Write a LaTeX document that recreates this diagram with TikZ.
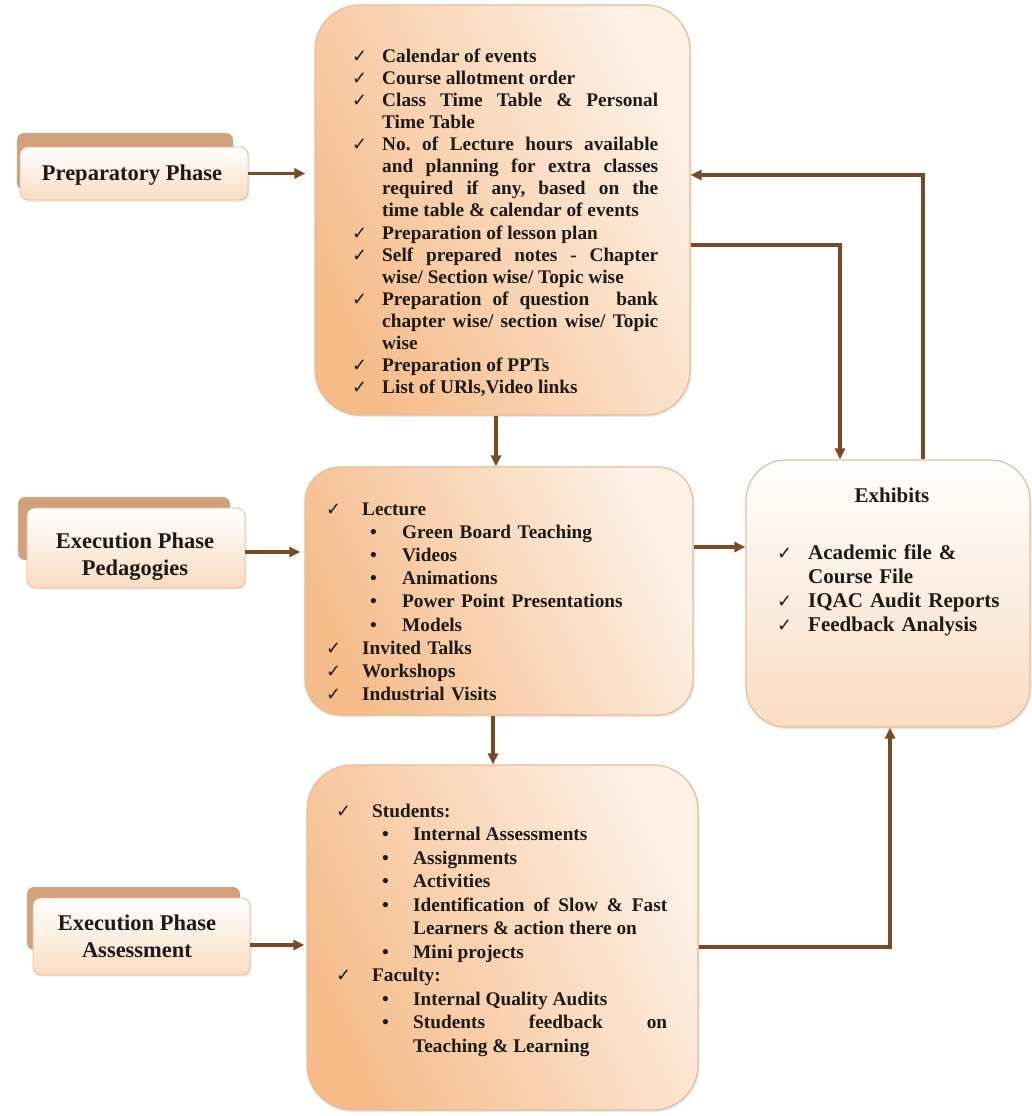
\documentclass[tikz,border=0pt]{standalone}
\usepackage{fontspec}
\setmainfont{Liberation Serif}
\newfontfamily\symfont{DejaVu Sans}
\usetikzlibrary{arrows.meta,shadows}
\frenchspacing

\definecolor{arrowbrown}{HTML}{7A4A22}
\definecolor{peachdark}{HTML}{F5BC8A}
\definecolor{peachlight}{HTML}{FEF1E6}
\definecolor{rim}{HTML}{EBBB95}
\definecolor{tabtan}{HTML}{D2A07A}
\definecolor{labelbottom}{HTML}{FADCC2}
\definecolor{ink}{HTML}{1E1A18}

\newcommand{\tickmark}{{\symfont\fontsize{18}{18}\selectfont ✓}}

% check-marked list: #1 = indent of the item text
\newenvironment{ticklist}[1]{%
  \begin{list}{\tickmark}{%
    \setlength{\leftmargin}{#1}\setlength{\labelwidth}{#1}%
    \setlength{\labelsep}{0pt}\setlength{\itemindent}{0pt}%
    \setlength{\itemsep}{0pt}\setlength{\parsep}{0pt}%
    \setlength{\topsep}{0pt}\setlength{\partopsep}{0pt}%
    \renewcommand{\makelabel}[1]{##1\hfil}}}
  {\end{list}}

% bulleted sub-list: #1 = indent of the text, #2 = width of the bullet box
\newenvironment{bulletlist}[2]{%
  \begin{list}{\textbullet}{%
    \setlength{\leftmargin}{#1}\setlength{\labelwidth}{#2}%
    \setlength{\labelsep}{0pt}\setlength{\itemindent}{0pt}%
    \setlength{\itemsep}{0pt}\setlength{\parsep}{0pt}%
    \setlength{\topsep}{0pt}\setlength{\partopsep}{0pt}%
    \renewcommand{\makelabel}[1]{##1\hfil}}}
  {\end{list}}

\tikzset{
  phasebox/.style={rectangle, draw=rim, line width=1.2pt,
    top color=peachlight, bottom color=peachdark, shading angle=-65,
    drop shadow={opacity=0.18, shadow xshift=1.5pt, shadow yshift=-2pt}},
  exhibitbox/.style={rectangle, draw=rim, line width=1.2pt,
    top color=white, bottom color=labelbottom,
    drop shadow={opacity=0.18, shadow xshift=1.5pt, shadow yshift=-2pt}},
  tabback/.style={rectangle, rounded corners=7pt, fill=tabtan},
  tabfront/.style={rectangle, rounded corners=8pt, draw=rim, line width=0.8pt,
    top color=white, bottom color=labelbottom,
    drop shadow={opacity=0.15, shadow xshift=1.5pt, shadow yshift=-1.5pt}},
  labeltext/.style={inner sep=0pt, text=ink, align=center,
    font=\fontsize{22.5}{27}\selectfont\bfseries},
  listtext/.style={inner sep=0pt, text=ink, anchor=north west},
  conn/.style={draw=arrowbrown, line width=3.2pt,
    -{Triangle[length=11pt,width=10pt]}},
}

\begin{document}
\begin{tikzpicture}[x=1pt,y=-1pt]
\fill[white] (0,0) rectangle (1032,1116);
\useasboundingbox (0,0) rectangle (1032,1116);

% ---- main content boxes ----
\node[phasebox, rounded corners=45pt, minimum width=375pt, minimum height=410pt]
  (prepbox) at (502.5,210) {};
\node[phasebox, rounded corners=35pt, minimum width=388pt, minimum height=248pt]
  (pedbox) at (499,591) {};
\node[phasebox, rounded corners=45pt, minimum width=391pt, minimum height=345pt]
  (assbox) at (502.5,937.5) {};
\node[exhibitbox, rounded corners=40pt, minimum width=284pt, minimum height=267pt]
  (exhbox) at (888,593.5) {};

% ---- phase labels on the left ----
\node[tabback, minimum width=216pt, minimum height=57pt] (prepback) at (125,161.5) {};
\node[tabfront, minimum width=228pt, minimum height=53pt] (prepfront) at (134,173.5) {};
\node[labeltext, anchor=base] (preplabel) at (132,180) {Preparatory Phase};

\node[tabback, minimum width=212pt, minimum height=63pt] (pedback) at (124,528.5) {};
\node[tabfront, minimum width=218pt, minimum height=80pt] (pedfront) at (136,548) {};
\node[labeltext, anchor=north] (pedlabel) at (135,532.8) {Execution Phase\\Pedagogies};

\node[tabback, minimum width=213pt, minimum height=63pt] (assback) at (133.5,918.5) {};
\node[tabfront, minimum width=217pt, minimum height=77pt] (assfront) at (141.5,936.5) {};
\node[labeltext, anchor=north] (asslabel) at (137,914.8) {Execution Phase\\Assessment};

% ---- box contents ----
\node[listtext, text width=306pt, align=justify,
      font=\fontsize{19.3}{22.13}\selectfont\bfseries] (preptext) at (352,39.7) {%
\begin{ticklist}{30pt}
\item Calendar of events
\item Course allotment order
\item Class Time Table \& Personal\linebreak Time Table
\item No. of Lecture hours available\linebreak and planning for extra classes\linebreak
  required if any, based on the\linebreak time table \& calendar of events
\item Preparation of lesson plan
\item Self prepared notes - Chapter\linebreak wise/ Section wise/ Topic wise
\item Preparation of question\hspace{16pt} bank\linebreak chapter wise/ section wise/ Topic\linebreak wise
\item Preparation of PPTs
\item List of URls,Video links
\end{ticklist}};

\node[listtext, text width=330pt, align=left,
      font=\fontsize{19.3}{23.1}\selectfont\bfseries] (pedtext) at (326,492.2) {%
\begin{ticklist}{36pt}
\item Lecture
  \begin{bulletlist}{40pt}{32pt}
  \item Green Board Teaching
  \item Videos
  \item Animations
  \item Power Point Presentations
  \item Models
  \end{bulletlist}
\item Invited Talks
\item Workshops
\item Industrial Visits
\end{ticklist}};

\node[listtext, text width=331pt, align=justify,
      font=\fontsize{19.3}{23.5}\selectfont\bfseries] (asstext) at (336,793.7) {%
\begin{ticklist}{36pt}
\item Students:
  \begin{bulletlist}{41pt}{31pt}
  \item Internal Assessments
  \item Assignments
  \item Activities
  \item Identification of Slow \& Fast\linebreak Learners \& action there on
  \item Mini projects
  \end{bulletlist}
\item Faculty:
  \begin{bulletlist}{41pt}{31pt}
  \item Internal Quality Audits
  \item Students feedback on\linebreak Teaching \& Learning
  \end{bulletlist}
\end{ticklist}};

\node[inner sep=0pt, text=ink, anchor=base, font=\fontsize{21}{24}\selectfont\bfseries]
  (exhhead) at (892,502) {Exhibits};
\node[listtext, text width=240pt, align=left,
      font=\fontsize{21}{24}\selectfont\bfseries] (exhtext) at (777,535.5) {%
\begin{ticklist}{31pt}
\item Academic file \&\newline Course File
\item IQAC Audit Reports
\item Feedback Analysis
\end{ticklist}};

% ---- connectors ----
\draw[conn, shorten >=9pt] (prepfront.east) -- (prepfront.east -| prepbox.west);
\draw[conn, shorten >=4pt] ([yshift=-4pt]pedfront.east) -- ([yshift=-4pt]pedfront.east -| pedbox.west);
\draw[conn, shorten >=2pt] ([yshift=-8.5pt]assfront.east) -- ([yshift=-8.5pt]assfront.east -| assbox.west);

\draw[conn] ([xshift=-6.5pt]prepbox.south) -- ([xshift=-6.5pt]prepbox.south |- pedbox.north);
\draw[conn] ([xshift=-6pt]pedbox.south) -- ([xshift=-6pt]pedbox.south |- assbox.north);
\draw[conn] ([yshift=44pt]pedbox.east) -- ([yshift=44pt]pedbox.east -| exhbox.west);

\draw[conn] ([yshift=-35pt]prepbox.east) -| ([xshift=-48pt]exhbox.north);
\draw[conn] ([xshift=35pt]exhbox.north) |- ([yshift=35pt]prepbox.east);
\draw[conn] ([yshift=-9.5pt]assbox.east) -| ([xshift=2pt]exhbox.south);
\end{tikzpicture}
\end{document}
